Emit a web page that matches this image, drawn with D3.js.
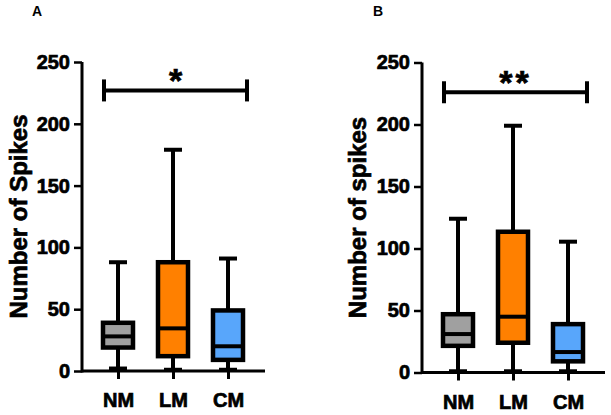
<!DOCTYPE html>
<html><head><meta charset="utf-8">
<script src="https://cdn.jsdelivr.net/npm/d3@7"></script>
<style>body{margin:0;background:#fff}svg{display:block}text{font-family:"Liberation Sans",Arial,sans-serif;font-weight:bold;fill:#000}.heavy{stroke:#000;stroke-width:0.7px;paint-order:stroke}</style>
</head><body><svg id="c" width="611" height="415"></svg>
<script>
const categories = ["NM", "LM", "CM"];
const colors = ["#a0a0a0", "#ff8000", "#58a6fb"];
const yTicks = [0, 50, 100, 150, 200, 250];
// [min, q1, median, q3, max]
const panelA = [[2, 19, 28, 39, 88], [1, 12, 34.5, 88, 179], [1, 9, 20, 49, 91]];
const panelB = [[1, 21.5, 31, 47, 124], [1, 24, 45, 113.5, 199], [1, 9, 16.5, 39, 105.5]];
const sigA = {value: 227, label: "*"};
const sigB = {value: 226, label: "**"};
const yLabelA = "Number of Spikes";
const yLabelB = "Number of spikes";

const svg = d3.select("#c");

function panel(cfg) {
  const g = svg.append("g");
  const y = d3.scaleLinear().domain([0, 250]).range([cfg.bottom, cfg.top]);
  const x = d3.scalePoint().domain(categories).range([cfg.left + 36, cfg.left + 146]);
  const right = cfg.left + 183;

  // y axis
  const ya = g.append("g").attr("transform", `translate(${cfg.left},0)`)
    .call(d3.axisLeft(y).tickValues(yTicks).tickSize(8).tickPadding(4));
  ya.select(".domain").attr("stroke-width", 3).attr("d", `M0,${cfg.bottom+1.5}V${cfg.top}`);
  ya.selectAll(".tick line").attr("stroke-width", 2.5);
  ya.selectAll(".tick text").attr("class", "heavy").attr("font-size", 20).attr("fill", "#000");

  // x axis
  const xa = g.append("g").attr("transform", `translate(0,${cfg.bottom})`)
    .call(d3.axisBottom(x).tickSize(8).tickPadding(14));
  xa.select(".domain").attr("stroke-width", 3).attr("d", `M${cfg.left},0H${right}`);
  xa.selectAll(".tick line").attr("stroke-width", 3);
  xa.selectAll(".tick text").attr("class", "heavy").attr("font-size", 20).attr("fill", "#000");

  const bw = 30, cw = 18;
  cfg.data.forEach((d, i) => {
    const cx = x(categories[i]);
    const bg = g.append("g");
    bg.append("line").attr("x1", cx).attr("x2", cx).attr("y1", y(d[0])).attr("y2", y(d[4]))
      .attr("stroke", "#000").attr("stroke-width", 4);
    [d[0], d[4]].forEach(v => bg.append("line").attr("x1", cx - cw/2).attr("x2", cx + cw/2)
      .attr("y1", y(v)).attr("y2", y(v)).attr("stroke", "#000").attr("stroke-width", 4));
    bg.append("rect").attr("x", cx - bw/2).attr("width", bw)
      .attr("y", y(d[3])).attr("height", y(d[1]) - y(d[3]))
      .attr("fill", colors[i]).attr("stroke", "#000").attr("stroke-width", 4.5);
    bg.append("line").attr("x1", cx - bw/2).attr("x2", cx + bw/2).attr("y1", y(d[2])).attr("y2", y(d[2]))
      .attr("stroke", "#000").attr("stroke-width", 4);
  });

  // significance bar
  const sy = y(cfg.sig.value);
  const sx1 = cfg.left + 22, sx2 = cfg.left + 165;
  g.append("line").attr("x1", sx1).attr("x2", sx2).attr("y1", sy).attr("y2", sy).attr("stroke", "#000").attr("stroke-width", 4);
  [sx1, sx2].forEach(sx => g.append("line").attr("x1", sx).attr("x2", sx).attr("y1", sy - 11).attr("y2", sy + 11).attr("stroke", "#000").attr("stroke-width", 4));
  g.append("text").attr("class", "heavy").attr("x", (sx1 + sx2) / 2).attr("y", sy + 2).attr("text-anchor", "middle")
    .attr("font-size", 34).attr("letter-spacing", cfg.sig.label.length > 1 ? 3 : 0).text(cfg.sig.label);

  // y label
  g.append("text").attr("class", "heavy").attr("transform", `translate(${cfg.labelX},${(cfg.top + cfg.bottom) / 2}) rotate(-90)`)
    .attr("text-anchor", "middle").attr("font-size", 24).text(cfg.yLabel);

  // panel letter
  g.append("text").attr("x", cfg.letterX).attr("y", 16).attr("font-size", 14).text(cfg.letter);
}

panel({left: 82, top: 62, bottom: 371, data: panelA, sig: sigA, yLabel: yLabelA, labelX: 27, letter: "A", letterX: 32});
panel({left: 422, top: 62.5, bottom: 372.5, data: panelB, sig: sigB, yLabel: yLabelB, labelX: 366, letter: "B", letterX: 373});
</script></body></html>
